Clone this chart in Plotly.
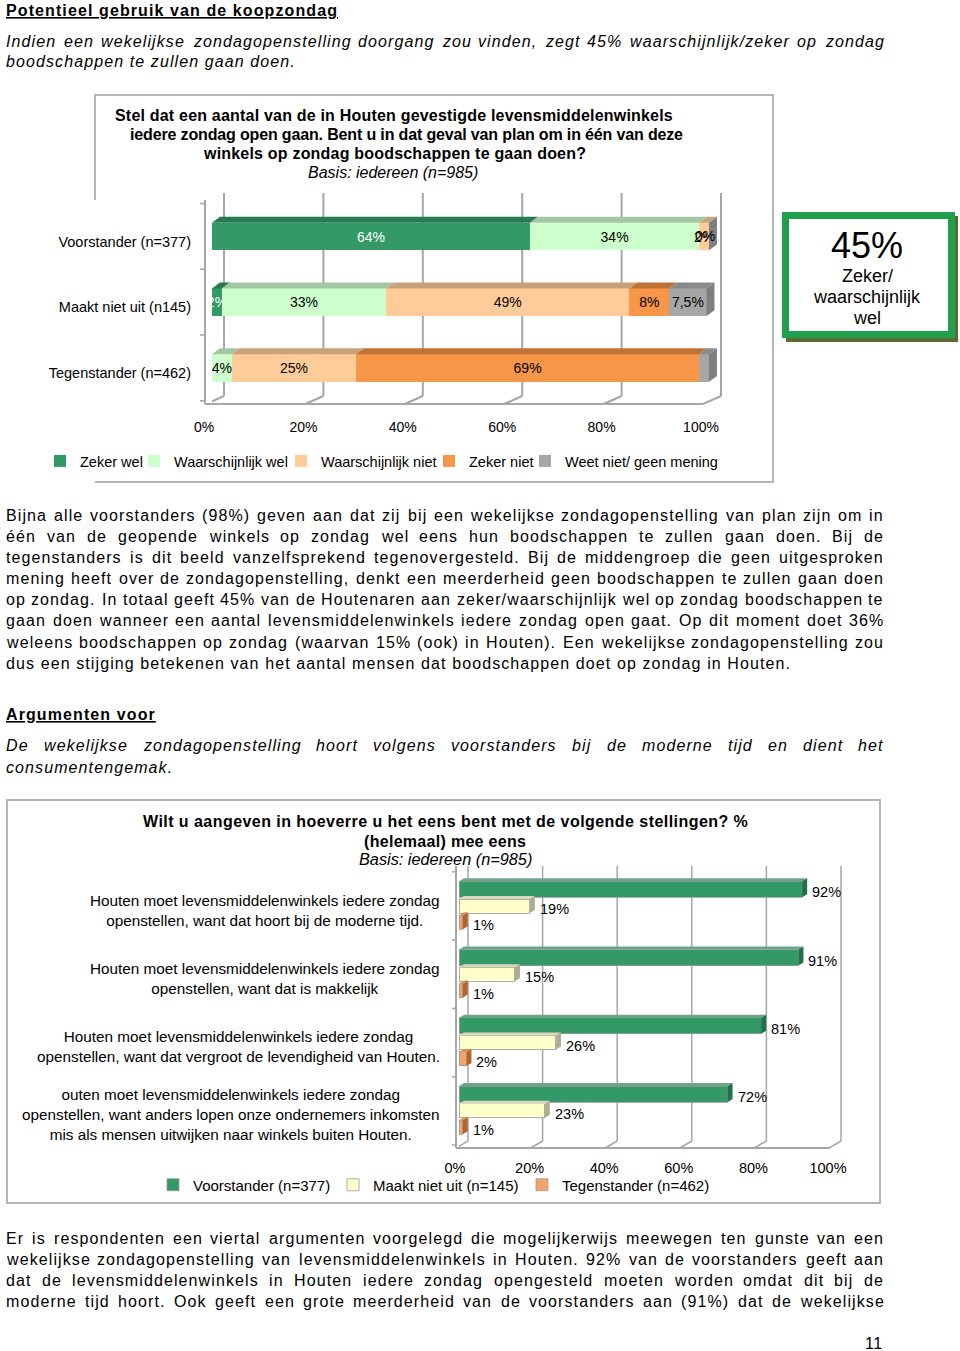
import plotly.graph_objects as go

W, H = 960, 1351
FONT = "Liberation Sans, Arial, sans-serif"


def px(x):
    return x / W


def py(y):
    return 1 - y / H


# ---------------- chart 1: koopzondag per groep ----------------
groups1 = ["Voorstander (n=377)", "Maakt niet uit (n145)", "Tegenstander (n=462)"]
answers1 = ["Zeker wel", "Waarschijnlijk wel", "Waarschijnlijk niet", "Zeker niet",
            "Weet niet/ geen mening"]
zeker_wel = [64, 2, 0]
waarschijnlijk_wel = [34, 33, 4]
waarschijnlijk_niet = [2, 49, 25]
zeker_niet = [0, 8, 69]
weet_niet = [0, 7.5, 2]
labels_zeker_wel = ["64%", "2%", ""]
labels_waarschijnlijk_wel = ["34%", "33%", "4%"]
labels_waarschijnlijk_niet = ["2%", "49%", "25%"]
labels_zeker_niet = ["0%", "8%", "69%"]
labels_weet_niet = ["", "7,5%", ""]
ticks_pct = [0, 20, 40, 60, 80, 100]
ticks_txt = ["0%", "20%", "40%", "60%", "80%", "100%"]

# ---------------- chart 2: argumenten voor ----------------
statements = [
    "Houten moet levensmiddelenwinkels iedere zondag<br>openstellen, want dat hoort bij de moderne tijd.",
    "Houten moet levensmiddelenwinkels iedere zondag<br>openstellen, want dat is makkelijk",
    "Houten moet levensmiddelenwinkels iedere zondag<br>openstellen, want dat vergroot de levendigheid van Houten.",
    "outen moet levensmiddelenwinkels iedere zondag<br>openstellen, want anders lopen onze ondernemers inkomsten<br>mis als mensen uitwijken naar winkels buiten Houten.",
]
groups2 = ["Voorstander (n=377)", "Maakt niet uit (n=145)", "Tegenstander (n=462)"]
voorstander = [92, 91, 81, 72]
maakt_niet_uit = [19, 15, 26, 23]
tegenstander = [1, 1, 2, 1]

# ---------------- text ----------------
para1 = [
    "Bijna alle voorstanders (98%) geven aan dat zij bij een wekelijkse zondagopenstelling van plan zijn om in",
    "één van de geopende winkels op zondag wel eens hun boodschappen te zullen gaan doen. Bij de",
    "tegenstanders is dit beeld vanzelfsprekend tegenovergesteld. Bij de middengroep die geen uitgesproken",
    "mening heeft over de zondagopenstelling, denkt een meerderheid geen boodschappen te zullen gaan doen",
    "op zondag. In totaal geeft 45% van de Houtenaren aan zeker/waarschijnlijk wel op zondag boodschappen te",
    "gaan doen wanneer een aantal levensmiddelenwinkels iedere zondag open gaat. Op dit moment doet 36%",
    "weleens boodschappen op zondag (waarvan 15% (ook) in Houten). Een wekelijkse zondagopenstelling zou",
    "dus een stijging betekenen van het aantal mensen dat boodschappen doet op zondag in Houten.",
]
para3 = [
    "Er is respondenten een viertal argumenten voorgelegd die mogelijkerwijs meewegen ten gunste van een",
    "wekelijkse zondagopenstelling van levensmiddelenwinkels in Houten. 92% van de voorstanders geeft aan",
    "dat de levensmiddelenwinkels in Houten iedere zondag opengesteld moeten worden omdat dit bij de",
    "moderne tijd hoort. Ook geeft een grote meerderheid van de voorstanders aan (91%) dat de wekelijkse",
]

# Arial / Liberation Sans advance widths (1/1000 em), used for justified lines
CHAR_W = {}
CHAR_W.update(dict.fromkeys("ijl", 222))
CHAR_W.update(dict.fromkeys(" ftI.,:;/!", 278))
CHAR_W.update(dict.fromkeys("r()-", 333))
CHAR_W.update(dict.fromkeys("cksvxyzJ", 500))
CHAR_W.update(dict.fromkeys("abdeghnopqu0123456789éëL?", 556))
CHAR_W.update(dict.fromkeys("ABEKPSVXY", 667))
CHAR_W.update(dict.fromkeys("CDHNRUw", 722))
CHAR_W.update(dict.fromkeys("FTZ", 611))
CHAR_W.update(dict.fromkeys("GOQ", 778))
CHAR_W.update({"m": 833, "M": 833, "W": 944, "%": 889, "=": 584})

fig = go.Figure()
annotations = []
shapes = []


def text_width(s, size, ls):
    return sum(CHAR_W.get(c, 556) for c in s) * size / 1000 + len(s) * ls


def add_text(text, x, y, size=16, ls=1.1, style="normal", weight="normal",
             under=False, justify_to=None, anchor="left"):
    font = dict(family=FONT, size=size, color="#000000", style=style, weight=weight,
                lineposition="under" if under else "none")
    pieces = [(text, x)]
    if justify_to is not None:
        words = text.split(" ")
        widths = [text_width(w, size, ls) for w in words]
        gap = (justify_to - x - sum(widths)) / (len(words) - 1)
        pieces, cx = [], x
        for w, wd in zip(words, widths):
            pieces.append((w, cx))
            cx += wd + gap
    for t, tx in pieces:
        annotations.append(dict(
            text=f'<span style="letter-spacing:{ls}px">{t}</span>', x=px(tx), y=py(y),
            xref="paper", yref="paper", xanchor=anchor, yanchor="middle",
            showarrow=False, borderpad=0, borderwidth=0, font=font))


# ---------------- chart 1 traces ----------------
series1 = [
    (zeker_wel, labels_zeker_wel, "#339966", "#287A52", "#FFFFFF"),
    (waarschijnlijk_wel, labels_waarschijnlijk_wel, "#CCFFCC", "#A3C7A3", "#000000"),
    (waarschijnlijk_niet, labels_waarschijnlijk_niet, "#FFCC99", "#C9A07C", "#000000"),
    (zeker_niet, labels_zeker_niet, "#F79646", "#C07236", "#000000"),
    (weet_niet, labels_weet_niet, "#A6A6A6", "#8A8A8A", "#000000"),
]
legend_ids1 = ["legend", "legend2", "legend3", "legend4", "legend5"]
legend_x1 = [80, 174, 321, 469, 565]
y1 = list(range(len(groups1)))
BW1 = 0.42
DX1, DY1 = 1.6, 0.09

for k, (vals, labs, col, topc, tcol) in enumerate(series1):
    fig.add_trace(go.Bar(
        y=y1, x=vals, orientation="h", name=answers1[k], width=BW1,
        marker=dict(color=col, line=dict(width=0)),
        text=[l if v > 0 else "" for l, v in zip(labs, vals)],
        textposition="inside", insidetextanchor="middle", textangle=0,
        constraintext="none", textfont=dict(family=FONT, size=14, color=tcol),
        legend=legend_ids1[k], xaxis="x", yaxis="y", hoverinfo="skip"))

# 3D top faces, zero-width labels and end faces of chart 1
for i in y1:
    cum = 0
    ytop, ybot = i - BW1 / 2, i + BW1 / 2
    for vals, labs, col, topc, tcol in series1:
        v = vals[i]
        if v > 0:
            shapes.append(dict(
                type="path", xref="x", yref="y", fillcolor=topc, line=dict(width=0),
                path=f"M {cum},{ytop} L {cum + v},{ytop} L {cum + v + DX1},{ytop - DY1} "
                     f"L {cum + DX1},{ytop - DY1} Z"))
        elif labs[i]:
            annotations.append(dict(
                text=labs[i], x=cum, y=i, xref="x", yref="y", showarrow=False,
                xshift=-4, font=dict(family=FONT, size=14, color="#000000")))
        cum += v
    shapes.append(dict(
        type="path", xref="x", yref="y", fillcolor="#7F7F7F", line=dict(width=0),
        path=f"M {cum},{ytop} L {cum + DX1},{ytop - DY1} L {cum + DX1},{ybot - DY1} "
             f"L {cum},{ybot} Z"))

# ---------------- chart 2 traces ----------------
series2 = [
    (voorstander, "#339966", "#6FA487", "#22704A", -0.245, 0.234),
    (maakt_niet_uit, "#FFFFCC", "#DAD8BC", "#AFAC94", 0.0, 0.205),
    (tegenstander, "#F2A46A", "#D69062", "#B3652E", 0.24, 0.205),
]
legend_ids2 = ["legend6", "legend7", "legend8"]
legend_x2 = [193, 373, 562]
y2 = list(range(len(statements)))
DX2, DY2 = 1.34, 0.045

for k, (vals, col, topc, sidec, off, bw) in enumerate(series2):
    pos = [i + off for i in y2]
    fig.add_trace(go.Bar(
        y=pos, x=vals, orientation="h", name=groups2[k], width=bw,
        marker=dict(color=col, line=dict(width=0.8, color="#9A9A9A")),
        legend=legend_ids2[k], xaxis="x2", yaxis="y2", hoverinfo="skip"))
    for p, v in zip(pos, vals):
        yt, yb = p - bw / 2, p + bw / 2
        shapes.append(dict(
            type="path", xref="x2", yref="y2", fillcolor=topc, line=dict(width=0),
            path=f"M 0,{yt} L {v},{yt} L {v + DX2},{yt - DY2} L {DX2},{yt - DY2} Z"))
        shapes.append(dict(
            type="path", xref="x2", yref="y2", fillcolor=sidec, line=dict(width=0),
            path=f"M {v},{yt} L {v + DX2},{yt - DY2} L {v + DX2},{yb - DY2} L {v},{yb} Z"))
        annotations.append(dict(
            text=f"{v}%", x=v, y=p, xref="x2", yref="y2", showarrow=False,
            xanchor="left", xshift=8, yshift=-3,
            font=dict(family=FONT, size=14.5, color="#000000")))

for i, s in enumerate(statements):
    annotations.append(dict(
        text=s, x=px(442), y=i, xref="paper", yref="y2", showarrow=False,
        xanchor="right", align="center", yshift=-4,
        font=dict(family=FONT, size=15.3, color="#000000")))

# ---------------- chrome: frames, grid, walls ----------------
grey = "#A6A6A6"
frame = "#B5B5B5"
# chart 1 frame (left edge only visible above the plot area)
shapes.append(dict(type="path", xref="paper", yref="paper",
                   path=f"M {px(95)},{py(200)} L {px(95)},{py(95)} L {px(773)},{py(95)} "
                        f"L {px(773)},{py(482)} L {px(95)},{py(482)}",
                   line=dict(color=frame, width=2)))
shapes.append(dict(type="rect", xref="paper", yref="paper", x0=px(7), x1=px(880),
                   y0=py(800), y1=py(1203), line=dict(color=frame, width=2)))

# chart 1 walls and grid
shapes.append(dict(type="line", xref="paper", yref="paper", x0=px(205), x1=px(205),
                   y0=py(200), y1=py(404), line=dict(color=grey, width=2)))
shapes.append(dict(type="line", xref="paper", yref="paper", x0=px(205), x1=px(703),
                   y0=py(404), y1=py(404), line=dict(color=grey, width=2)))
for b in [i - 0.5 for i in y1] + [y1[-1] + 0.5]:
    shapes.append(dict(type="line", xref="paper", yref="y", x0=px(200), x1=px(205),
                       y0=b, y1=b, line=dict(color=grey, width=1.5)))
for t in ticks_pct:
    shapes.append(dict(type="line", xref="x", yref="paper", xsizemode="pixel", xanchor=t,
                       x0=12, x1=12, y0=py(193), y1=py(396), layer="below",
                       line=dict(color=grey, width=2)))
    shapes.append(dict(type="line", xref="x", yref="paper", xsizemode="pixel", xanchor=t,
                       x0=12, x1=-6, y0=py(396), y1=py(404), layer="below",
                       line=dict(color=grey, width=2)))

# chart 2 walls and grid
shapes.append(dict(type="line", xref="paper", yref="paper", x0=px(456), x1=px(456),
                   y0=py(866), y1=py(1148), line=dict(color=grey, width=2)))
shapes.append(dict(type="line", xref="paper", yref="paper", x0=px(456), x1=px(830),
                   y0=py(1148), y1=py(1148), line=dict(color=grey, width=2)))
for b in [i - 0.5 for i in y2] + [y2[-1] + 0.5]:
    shapes.append(dict(type="line", xref="paper", yref="y2", x0=px(452), x1=px(456),
                       y0=b, y1=b, line=dict(color=grey, width=1.5)))
for t in ticks_pct:
    shapes.append(dict(type="line", xref="x2", yref="paper", xsizemode="pixel", xanchor=t,
                       x0=9, x1=9, y0=py(866), y1=py(1141), layer="below",
                       line=dict(color=grey, width=1.5)))
    shapes.append(dict(type="line", xref="x2", yref="paper", xsizemode="pixel", xanchor=t,
                       x0=9, x1=-3, y0=py(1141), y1=py(1148), layer="below",
                       line=dict(color=grey, width=1.5)))

# 45% box
shapes.append(dict(type="rect", xref="paper", yref="paper", x0=px(786), x1=px(958),
                   y0=py(342), y1=py(216), fillcolor="#5B6B2E", line=dict(width=0)))
shapes.append(dict(type="rect", xref="paper", yref="paper", x0=px(785.5), x1=px(951.5),
                   y0=py(334.5), y1=py(215.5), fillcolor="#FFFFFF",
                   line=dict(color="#20A04C", width=7)))
add_text("45%", 867, 246, size=36, ls=0, anchor="center")
add_text("Zeker/", 867, 276, size=18, ls=0, anchor="center")
add_text("waarschijnlijk", 867, 297, size=18, ls=0, anchor="center")
add_text("wel", 867, 318, size=18, ls=0, anchor="center")

# ---------------- page text ----------------
add_text("Potentieel gebruik van de koopzondag", 6, 10, weight="bold", under=True)
add_text("Indien een wekelijkse zondagopenstelling doorgang zou vinden, zegt 45% "
         "waarschijnlijk/zeker op zondag", 6, 41, style="italic", justify_to=884)
add_text("boodschappen te zullen gaan doen.", 6, 62, style="italic")

add_text("Stel dat een aantal van de in Houten gevestigde levensmiddelenwinkels", 394, 116,
         weight="bold", ls=0.2, anchor="center")
add_text("iedere zondag open gaan. Bent u in dat geval van plan om in één van deze", 406, 135,
         weight="bold", ls=-0.15, anchor="center")
add_text("winkels op zondag boodschappen te gaan doen?", 394, 153,
         weight="bold", ls=0.2, anchor="center")
add_text("Basis: iedereen (n=985)", 393, 172, style="italic", ls=0, anchor="center")

for j, line in enumerate(para1):
    last = j == len(para1) - 1
    add_text(line, 6, 515 + 21.2 * j, justify_to=None if last else 884)

add_text("Argumenten voor", 6, 714, weight="bold", under=True)
add_text("De wekelijkse zondagopenstelling hoort volgens voorstanders bij de moderne tijd en "
         "dient het", 6, 745, style="italic", justify_to=884)
add_text("consumentengemak.", 6, 767, style="italic")

add_text("Wilt u aangeven in hoeverre u het eens bent met de volgende stellingen? %", 445, 822,
         weight="bold", ls=0.45, anchor="center")
add_text("(helemaal) mee eens", 445, 841, weight="bold", ls=0.3, anchor="center")
add_text("Basis: iedereen (n=985)", 445, 859, size=16.3, style="italic", ls=0, anchor="center")

for j, line in enumerate(para3):
    add_text(line, 6, 1238 + 21.2 * j, justify_to=884)

add_text("11", 874, 1343, size=16, ls=0.5, anchor="center")

# ---------------- layout ----------------
U1 = 4.97          # px per percent, chart 1
ROW1 = 65.75       # px per group, chart 1
U2 = 3.73          # px per percent, chart 2
ROW2 = 68.3        # px per statement, chart 2

legends = {}
for lid, lx in zip(legend_ids1, legend_x1):
    legends[lid] = dict(x=px(lx - 40), y=py(461), xanchor="left", yanchor="middle",
                        orientation="h", bgcolor="rgba(0,0,0,0)", borderwidth=0,
                        font=dict(family=FONT, size=14.5, color="#000000"))
for lid, lx in zip(legend_ids2, legend_x2):
    legends[lid] = dict(x=px(lx - 40), y=py(1185), xanchor="left", yanchor="middle",
                        orientation="h", bgcolor="rgba(0,0,0,0)", borderwidth=0,
                        font=dict(family=FONT, size=15, color="#000000"))

fig.update_layout(
    width=W, height=H, autosize=False,
    margin=dict(l=0, r=0, t=0, b=0, autoexpand=False),
    paper_bgcolor="#FFFFFF", plot_bgcolor="rgba(0,0,0,0)",
    barmode="stack", showlegend=True,
    font=dict(family=FONT, color="#000000"),
    xaxis=dict(domain=[px(212), px(212 + 104 * U1)], range=[0, 104], anchor="y",
               tickvals=ticks_pct, ticktext=ticks_txt, showgrid=False, zeroline=False,
               showline=False, ticks="", ticklabelshift=-8, ticklabelstandoff=6,
               automargin=False, tickfont=dict(family=FONT, size=14, color="#000000")),
    yaxis=dict(domain=[py(236.5 + 2.65 * ROW1), py(236.5 - 0.8 * ROW1)], range=[2.65, -0.8],
               anchor="x", tickvals=y1, ticktext=groups1, showgrid=False, zeroline=False,
               showline=False, ticks="", ticklabelstandoff=20, ticklabelshift=-5,
               automargin=False, tickfont=dict(family=FONT, size=14.5, color="#000000")),
    xaxis2=dict(domain=[px(459), px(459 + 104 * U2)], range=[0, 104], anchor="y2",
                tickvals=ticks_pct, ticktext=ticks_txt, showgrid=False, zeroline=False,
                showline=False, ticks="", ticklabelshift=-4, ticklabelstandoff=6,
                automargin=False, tickfont=dict(family=FONT, size=14.5, color="#000000")),
    yaxis2=dict(domain=[py(906 + 3.6 * ROW2), py(906 - 0.6 * ROW2)], range=[3.6, -0.6],
                anchor="x2", showgrid=False, zeroline=False, showline=False,
                showticklabels=False, ticks="", automargin=False),
    annotations=annotations,
    shapes=shapes,
    **legends,
)

fig.write_html("out.html", config={"displayModeBar": False},
               post_script="document.body.style.margin='0';")
